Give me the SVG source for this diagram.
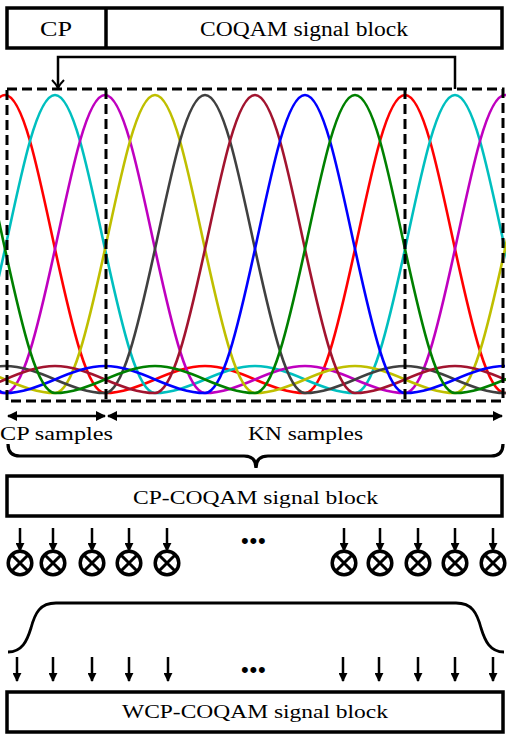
<svg xmlns="http://www.w3.org/2000/svg" xmlns:xlink="http://www.w3.org/1999/xlink" width="513" height="749" viewBox="0 0 513 749">
<style>
.box{fill:#fff;stroke:#000;stroke-width:3.5}
.dash{fill:none;stroke:#000;stroke-width:3;stroke-dasharray:10 5}
.ln{fill:none;stroke:#000;stroke-width:2.5}
.thick{fill:none;stroke:#000;stroke-width:3}
.lbl{font-family:"Liberation Serif","Times New Roman",serif;font-size:19px;fill:#000}
.dots{font-family:"Liberation Sans",Arial,sans-serif;font-size:22px;fill:#000;letter-spacing:0.8px}
.w{fill:none;stroke-width:2.6}
.r{stroke:#ff0000}.c{stroke:#00bfbf}.m{stroke:#bf00bf}.y{stroke:#bfbf00}
.k{stroke:#404040}.d{stroke:#a2142f}.b{stroke:#0000ff}.g{stroke:#008000}
.mul{fill:#fff;stroke:#000;stroke-width:3.5}
</style>
<defs>
<path id="lobe" d="M-200,366 C-183.333,366 -166.667,372.43 -150,379.5 C-133.333,386.57 -116.667,393 -100,393 C-91.667,393 -83.333,377.7 -75,351 C-66.667,324.3 -58.333,287.3 -50,249 C-41.667,210.7 -33.333,170.2 -25,141 C-16.667,111.8 -8.333,95 0,95 C8.333,95 16.667,111.8 25,141 C33.333,170.2 41.667,210.7 50,249 C58.333,287.3 66.667,324.3 75,351 C83.333,377.7 91.667,393 100,393 C116.667,393 133.333,386.57 150,379.5 C166.667,372.43 183.333,366 200,366"/>
<clipPath id="clipw"><rect x="0" y="80" width="506" height="330"/></clipPath>
<marker id="tri" viewBox="0 0 10 10" refX="9" refY="5" markerWidth="10" markerHeight="10" markerUnits="userSpaceOnUse" orient="auto-start-reverse">
<path d="M0,0 L10,5 L0,10 z" fill="#000"/>
</marker>
<marker id="tri2" viewBox="0 0 10 10" refX="9" refY="5" markerWidth="9" markerHeight="9" markerUnits="userSpaceOnUse" orient="auto">
<path d="M0,0 L10,5 L0,10 z" fill="#000"/>
</marker>
<marker id="open" viewBox="0 0 10 14" refX="9" refY="7" markerWidth="10" markerHeight="14" markerUnits="userSpaceOnUse" orient="auto">
<path d="M1,1 Q5,5 9,7 Q5,9 1,13" fill="none" stroke="#000" stroke-width="2"/>
</marker>
</defs>

<g id="cp-coqam-top">
<rect class="box" x="7" y="8" width="495" height="40"/>
<line class="thick" x1="106" y1="8" x2="106" y2="48" style="stroke-width:3.5"/>
<text class="lbl" x="40" y="36" textLength="32" lengthAdjust="spacingAndGlyphs" style="font-size:20px">CP</text>
<text class="lbl" x="200" y="36" textLength="208" lengthAdjust="spacingAndGlyphs" style="font-size:20px">COQAM signal block</text>
</g>

<g id="waveforms" clip-path="url(#clipw)">
<use xlink:href="#lobe" class="w r" x="5"/><use xlink:href="#lobe" class="w r" x="405"/>
<use xlink:href="#lobe" class="w c" x="55"/><use xlink:href="#lobe" class="w c" x="455"/>
<use xlink:href="#lobe" class="w m" x="105"/><use xlink:href="#lobe" class="w m" x="505"/>
<use xlink:href="#lobe" class="w y" x="155"/><use xlink:href="#lobe" class="w y" x="555"/>
<use xlink:href="#lobe" class="w k" x="-195"/><use xlink:href="#lobe" class="w k" x="205"/><use xlink:href="#lobe" class="w k" x="605"/>
<use xlink:href="#lobe" class="w d" x="-145"/><use xlink:href="#lobe" class="w d" x="255"/><use xlink:href="#lobe" class="w d" x="655"/>
<use xlink:href="#lobe" class="w b" x="-95"/><use xlink:href="#lobe" class="w b" x="305"/>
<use xlink:href="#lobe" class="w g" x="-45"/><use xlink:href="#lobe" class="w g" x="355"/>
</g>

<g id="frame">
<rect class="dash" x="7" y="89" width="496" height="312"/>
<line class="dash" x1="106" y1="89" x2="106" y2="401"/>
<line class="dash" x1="405" y1="89" x2="405" y2="401"/>
</g>

<g id="connectors">
<path class="ln" d="M455,89 V57 H58 V88" marker-end="url(#open)"/>
<line class="ln" x1="8" y1="416" x2="105" y2="416" marker-start="url(#tri)" marker-end="url(#tri)"/>
<line class="ln" x1="108" y1="416" x2="502" y2="416" marker-start="url(#tri)" marker-end="url(#tri)"/>
<path class="thick" style="stroke-width:3.2" d="M8,444 Q8,456 20,456 L244,456 Q256,456 256,468 Q256,456 268,456 L491,456 Q503,456 503,444"/>
<g id="in-arrows">
<line class="ln" x1="20" y1="528" x2="20" y2="551" marker-end="url(#tri2)"/>
<line class="ln" x1="53" y1="528" x2="53" y2="551" marker-end="url(#tri2)"/>
<line class="ln" x1="92" y1="528" x2="92" y2="551" marker-end="url(#tri2)"/>
<line class="ln" x1="129" y1="528" x2="129" y2="551" marker-end="url(#tri2)"/>
<line class="ln" x1="167" y1="528" x2="167" y2="551" marker-end="url(#tri2)"/>
<line class="ln" x1="344" y1="528" x2="344" y2="551" marker-end="url(#tri2)"/>
<line class="ln" x1="380" y1="528" x2="380" y2="551" marker-end="url(#tri2)"/>
<line class="ln" x1="418" y1="528" x2="418" y2="551" marker-end="url(#tri2)"/>
<line class="ln" x1="455" y1="528" x2="455" y2="551" marker-end="url(#tri2)"/>
<line class="ln" x1="493" y1="528" x2="493" y2="551" marker-end="url(#tri2)"/>
</g>
<path class="thick" style="stroke-width:2.8" d="M8,652 C22,652 27,641 31,628 C35,613 40,603 56,603 L456,603 C472,603 477,613 481,628 C485,641 490,652 504,652"/>
<g id="out-arrows">
<line class="ln" x1="17" y1="657" x2="17" y2="681" marker-end="url(#tri2)"/>
<line class="ln" x1="53" y1="657" x2="53" y2="681" marker-end="url(#tri2)"/>
<line class="ln" x1="92" y1="657" x2="92" y2="681" marker-end="url(#tri2)"/>
<line class="ln" x1="129" y1="657" x2="129" y2="681" marker-end="url(#tri2)"/>
<line class="ln" x1="168" y1="657" x2="168" y2="681" marker-end="url(#tri2)"/>
<line class="ln" x1="343" y1="657" x2="343" y2="681" marker-end="url(#tri2)"/>
<line class="ln" x1="379" y1="657" x2="379" y2="681" marker-end="url(#tri2)"/>
<line class="ln" x1="418" y1="657" x2="418" y2="681" marker-end="url(#tri2)"/>
<line class="ln" x1="455" y1="657" x2="455" y2="681" marker-end="url(#tri2)"/>
<line class="ln" x1="493" y1="657" x2="493" y2="681" marker-end="url(#tri2)"/>
</g>
</g>

<g id="labels">
<text class="lbl" x="0" y="440" textLength="113" lengthAdjust="spacingAndGlyphs">CP samples</text>
<text class="lbl" x="248" y="440" textLength="115" lengthAdjust="spacingAndGlyphs">KN samples</text>
</g>

<g id="cp-coqam-block">
<rect class="box" x="7" y="476" width="495" height="40"/>
<text class="lbl" x="133" y="504" textLength="245" lengthAdjust="spacingAndGlyphs">CP-COQAM signal block</text>
</g>

<g id="multipliers">
<g id="mul1"><circle class="mul" cx="20" cy="563" r="11.8"/><path class="thick" d="M11.7,554.7 L28.3,571.3 M28.3,554.7 L11.7,571.3"/></g>
<g id="mul2"><circle class="mul" cx="53" cy="563" r="11.8"/><path class="thick" d="M44.7,554.7 L61.3,571.3 M61.3,554.7 L44.7,571.3"/></g>
<g id="mul3"><circle class="mul" cx="92" cy="563" r="11.8"/><path class="thick" d="M83.7,554.7 L100.3,571.3 M100.3,554.7 L83.7,571.3"/></g>
<g id="mul4"><circle class="mul" cx="129" cy="563" r="11.8"/><path class="thick" d="M120.7,554.7 L137.3,571.3 M137.3,554.7 L120.7,571.3"/></g>
<g id="mul5"><circle class="mul" cx="167" cy="563" r="11.8"/><path class="thick" d="M158.7,554.7 L175.3,571.3 M175.3,554.7 L158.7,571.3"/></g>
<g id="mul6"><circle class="mul" cx="344" cy="563" r="11.8"/><path class="thick" d="M335.7,554.7 L352.3,571.3 M352.3,554.7 L335.7,571.3"/></g>
<g id="mul7"><circle class="mul" cx="380" cy="563" r="11.8"/><path class="thick" d="M371.7,554.7 L388.3,571.3 M388.3,554.7 L371.7,571.3"/></g>
<g id="mul8"><circle class="mul" cx="418" cy="563" r="11.8"/><path class="thick" d="M409.7,554.7 L426.3,571.3 M426.3,554.7 L409.7,571.3"/></g>
<g id="mul9"><circle class="mul" cx="455" cy="563" r="11.8"/><path class="thick" d="M446.7,554.7 L463.3,571.3 M463.3,554.7 L446.7,571.3"/></g>
<g id="mul10"><circle class="mul" cx="493" cy="563" r="11.8"/><path class="thick" d="M484.7,554.7 L501.3,571.3 M501.3,554.7 L484.7,571.3"/></g>
<text class="dots" x="241" y="547.5">•••</text>
<text class="dots" x="241" y="676.5">•••</text>
</g>

<g id="wcp-coqam-block">
<rect class="box" x="7" y="692" width="496" height="40"/>
<text class="lbl" x="122" y="718" textLength="266" lengthAdjust="spacingAndGlyphs">WCP-COQAM signal block</text>
</g>
</svg>
